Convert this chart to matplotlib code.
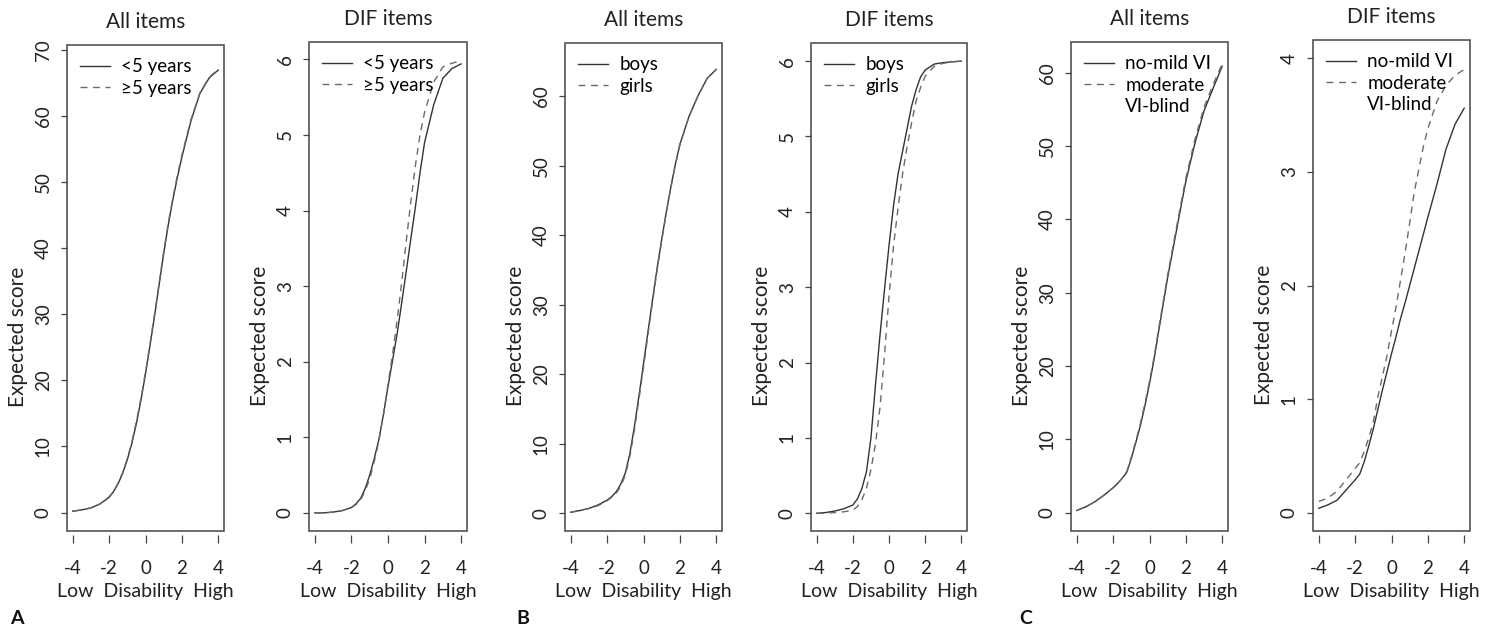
"""
Expected score curves (All items vs DIF items) for three group splits.
"""

import matplotlib
matplotlib.use('Agg')  # Non-interactive backend
import matplotlib.pyplot as plt
from matplotlib.lines import Line2D

plt.rcParams['font.family'] = ['Lato', 'DejaVu Sans']

theta = [-4, -3.5, -3, -2.5, -2, -1.75, -1.5, -1.25, -1, -0.75, -0.5, -0.25, 0,
         0.25, 0.5, 0.75, 1, 1.25, 1.5, 1.75, 2, 2.5, 3, 3.5, 4]

# A: duration <5 years vs >=5 years
a_all_lt5 = [0.2, 0.4, 0.7, 1.3, 2.3, 3.2, 4.4, 6.0, 8.0, 10.5, 13.5, 17.0, 21.0,
             25.3, 29.8, 34.5, 39.2, 43.5, 47.3, 50.7, 53.8, 59.3, 63.5, 65.8, 67.0]
a_all_ge5 = [0.2, 0.4, 0.7, 1.3, 2.4, 3.3, 4.5, 6.1, 8.2, 10.7, 13.8, 17.3, 21.3,
             25.6, 30.1, 34.8, 39.5, 43.8, 47.6, 51.0, 54.1, 59.5, 63.6, 65.9, 67.1]
a_dif_lt5 = [0.0, 0.0, 0.01, 0.03, 0.07, 0.12, 0.19, 0.32, 0.5, 0.72, 0.97, 1.3, 1.67,
             2.02, 2.37, 2.78, 3.2, 3.63, 4.05, 4.5, 4.9, 5.4, 5.75, 5.88, 5.94]
a_dif_ge5 = [0.0, 0.0, 0.01, 0.03, 0.07, 0.11, 0.17, 0.29, 0.45, 0.68, 0.95, 1.3, 1.7,
             2.1, 2.55, 3.05, 3.6, 4.12, 4.6, 5.0, 5.3, 5.7, 5.9, 5.95, 5.98]

# B: boys vs girls
b_all_boys = [0.15, 0.4, 0.7, 1.2, 1.9, 2.4, 3.1, 4.2, 5.8, 8.6, 12.5, 16.9, 21.5,
              26.2, 30.8, 35.3, 39.4, 43.3, 46.9, 50.2, 53.1, 57.1, 60.1, 62.6, 63.9]
b_all_girls = [0.15, 0.4, 0.7, 1.1, 1.8, 2.3, 2.9, 3.9, 5.5, 8.2, 12.0, 16.4, 21.0,
               25.8, 30.5, 35.0, 39.2, 43.2, 46.8, 50.1, 53.0, 57.1, 60.1, 62.6, 63.9]
b_dif_boys = [0.0, 0.01, 0.03, 0.06, 0.11, 0.19, 0.33, 0.55, 1.0, 1.7, 2.36, 2.97, 3.55,
              4.08, 4.5, 4.8, 5.1, 5.4, 5.62, 5.79, 5.88, 5.96, 5.98, 5.99, 6.0]
b_dif_girls = [0.0, 0.0, 0.01, 0.02, 0.04, 0.09, 0.18, 0.33, 0.58, 0.92, 1.4, 2.1, 2.88,
               3.55, 4.05, 4.5, 4.86, 5.18, 5.47, 5.65, 5.8, 5.93, 5.97, 5.99, 6.0]

# C: visual impairment groups
c_all_mild = [0.3, 0.8, 1.5, 2.4, 3.4, 4.0, 4.7, 5.5, 7.4, 9.6, 11.9, 14.6, 17.6,
              20.9, 24.7, 28.4, 32.1, 35.4, 38.7, 42.0, 45.2, 50.4, 54.8, 57.9, 60.9]
c_all_moderate = [0.3, 0.8, 1.5, 2.4, 3.4, 4.0, 4.7, 5.6, 7.6, 9.8, 12.2, 14.9, 17.9,
                  21.2, 25.0, 28.7, 32.4, 35.8, 39.1, 42.4, 45.6, 50.9, 55.3, 58.4, 61.2]
c_dif_mild = [0.04, 0.07, 0.11, 0.2, 0.29, 0.34, 0.45, 0.59, 0.74, 0.91, 1.08, 1.24, 1.4,
              1.55, 1.71, 1.85, 2.0, 2.15, 2.3, 2.45, 2.6, 2.89, 3.2, 3.42, 3.56]
c_dif_moderate = [0.1, 0.13, 0.19, 0.29, 0.39, 0.44, 0.54, 0.66, 0.8, 1.02, 1.2, 1.38, 1.6,
                  1.81, 2.05, 2.29, 2.55, 2.82, 3.02, 3.22, 3.38, 3.62, 3.76, 3.85, 3.9]

labels_a = ['<5 years', '\u22655 years']
labels_b = ['boys', 'girls']
labels_c = ['no-mild VI', 'moderate', 'VI-blind']

x_ticks = [-4, -2, 0, 2, 4]
yticks_all_a = [0, 10, 20, 30, 40, 50, 60, 70]
yticks_all = [0, 10, 20, 30, 40, 50, 60]
yticks_dif6 = [0, 1, 2, 3, 4, 5, 6]
yticks_dif4 = [0, 1, 2, 3, 4]

W, H = 1488, 633
SOLID = '#333333'
DASHED = '#6a6a6a'
FRAME = '#444444'
TEXT = '#222222'


def px_rect(left, right, top, bottom):
    return [left / W, 1 - bottom / H, (right - left) / W, (bottom - top) / H]


def draw_panel(fig, rect, title, y1, y2, labels, ylim, yticks):
    ax = fig.add_axes(rect)
    ax.plot(theta, y1, color=SOLID, linewidth=1.0)
    ax.plot(theta, y2, color=DASHED, linewidth=1.0, linestyle=(0, (5, 4)))

    ax.set_xlim(-4.32, 4.32)
    ax.set_ylim(*ylim)
    ax.set_xticks(x_ticks)
    ax.set_xticklabels([str(t) for t in x_ticks])
    ax.set_yticks(yticks)

    # R-like box drawn by the axes patch, x ticks detached from the box
    for s in ax.spines.values():
        s.set_visible(False)
    ax.spines['bottom'].set_position(('outward', 3))
    ax.patch.set_edgecolor(FRAME)
    ax.patch.set_linewidth(1.1)

    ax.tick_params(axis='x', direction='out', length=6, width=0.9, color=FRAME,
                   labelsize=13.5, pad=12, labelcolor=TEXT)
    ax.tick_params(axis='y', direction='out', length=4, width=0.9, color=FRAME,
                   labelsize=13.5, pad=7, labelcolor=TEXT)
    plt.setp(ax.get_yticklabels(), rotation=90, va='center')

    ax.set_ylabel('Expected score', fontsize=15, color=TEXT)
    ax.yaxis.set_label_coords(-0.25, 0.40)
    ax.set_xlabel('Low  Disability  High', fontsize=14, labelpad=4, color=TEXT)
    ax.set_title(title, fontsize=15, pad=12, color=TEXT)

    handles = [Line2D([], [], color=SOLID, linewidth=1.0),
               Line2D([], [], color=DASHED, linewidth=1.0, linestyle=(0, (5, 4)))]
    if len(labels) > 2:
        handles.append(Line2D([], [], color='none'))
    ax.legend(handles, labels, loc='upper left', frameon=False, fontsize=13.5,
              handlelength=1.6, handletextpad=0.6, labelspacing=0.25,
              borderaxespad=0.3, borderpad=0.4)
    return ax


def main():
    fig = plt.figure(figsize=(W / 100, H / 100), dpi=100)

    draw_panel(fig, px_rect(67, 224, 45, 531), 'All items',
               a_all_lt5, a_all_ge5, labels_a, (-2.8, 70.8), yticks_all_a)
    draw_panel(fig, px_rect(309, 467, 42, 531), 'DIF items',
               a_dif_lt5, a_dif_ge5, labels_a, (-0.24, 6.23), yticks_dif6)
    draw_panel(fig, px_rect(565, 722, 43, 531), 'All items',
               b_all_boys, b_all_girls, labels_b, (-2.55, 67.7), yticks_all)
    draw_panel(fig, px_rect(811, 967, 43, 531), 'DIF items',
               b_dif_boys, b_dif_girls, labels_b, (-0.235, 6.24), yticks_dif6)
    draw_panel(fig, px_rect(1071, 1228, 42, 531), 'All items',
               c_all_mild, c_all_moderate, labels_c, (-2.5, 64.2), yticks_all)
    draw_panel(fig, px_rect(1313, 1470, 40, 531), 'DIF items',
               c_dif_mild, c_dif_moderate, labels_c, (-0.16, 4.16), yticks_dif4)

    for letter, xpx in [('A', 10), ('B', 516), ('C', 1019)]:
        fig.text(xpx / W, 1 - 618 / H, letter, fontsize=14, fontweight='bold',
                 ha='left', va='center', color='#111111')

    fig.savefig('out.png', dpi=100)


if __name__ == "__main__":
    main()
